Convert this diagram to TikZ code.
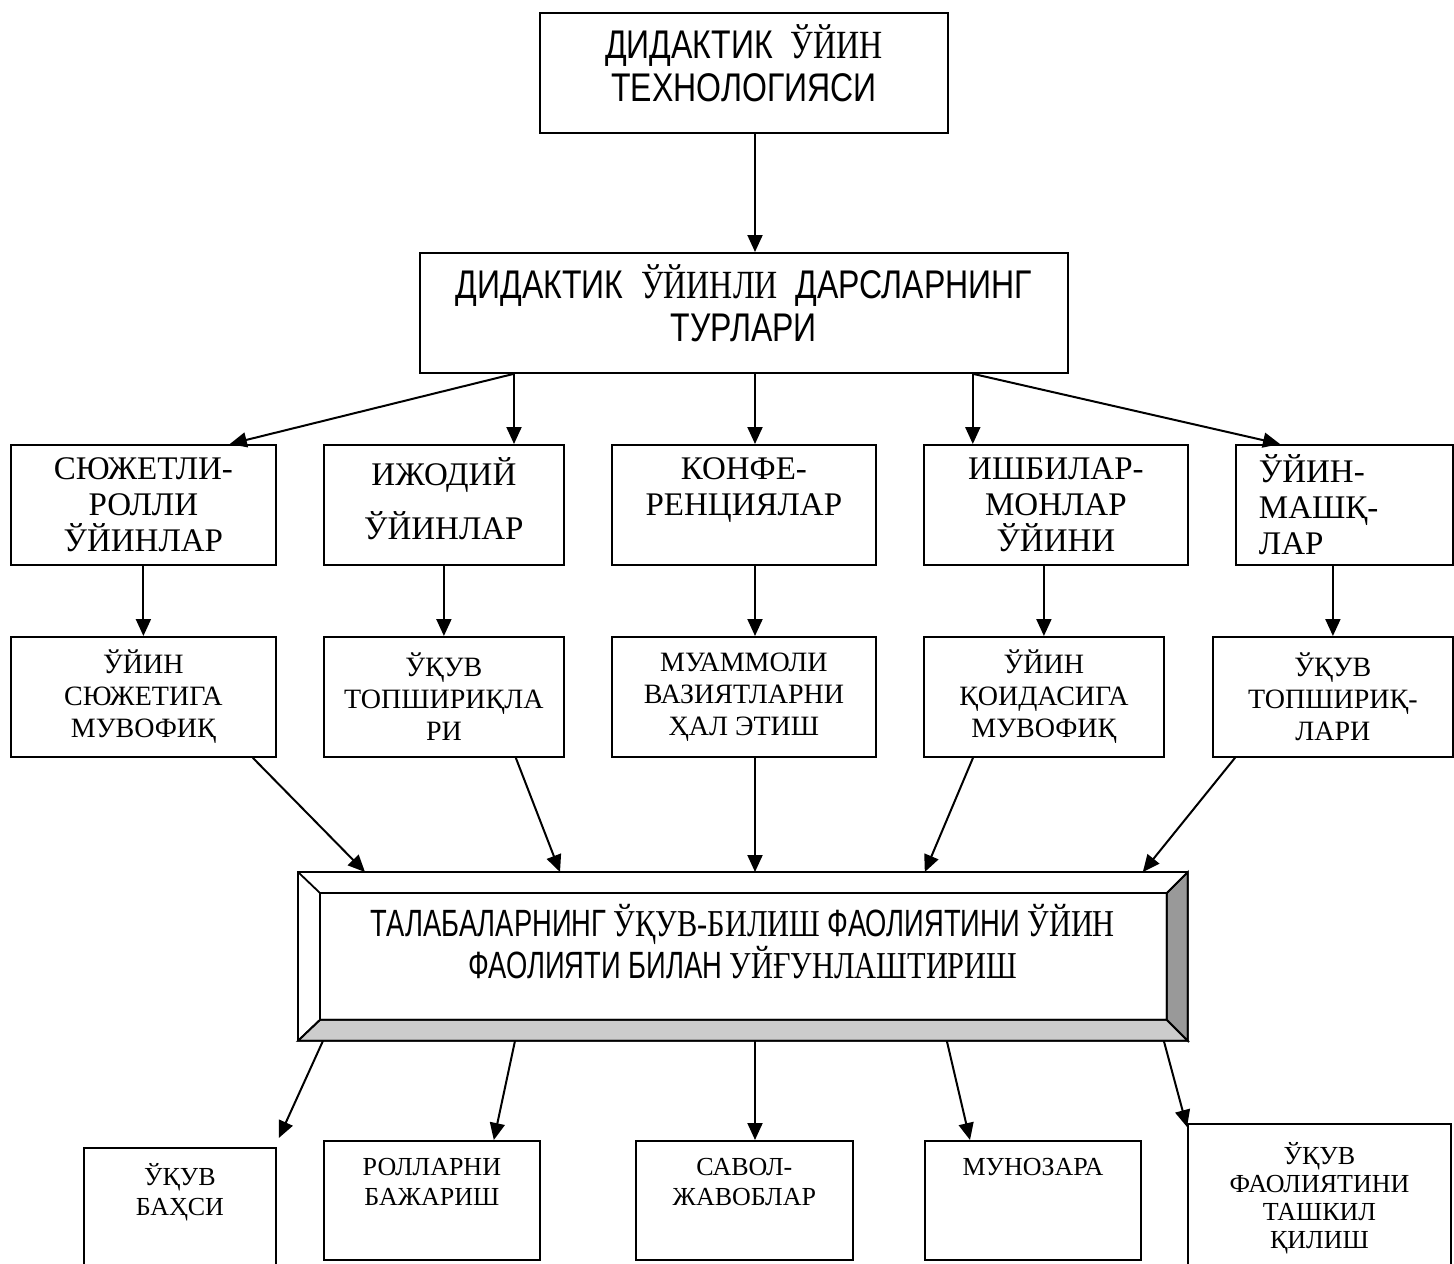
\documentclass[tikz,border=0pt]{standalone}
\usepackage{fontspec}
\setmainfont{Liberation Serif}
\newfontfamily\narrowsans[FakeStretch=0.8]{Liberation Sans}
\newfontfamily\narrowersans[FakeStretch=0.72]{Liberation Sans}
\newfontfamily\narrowserif[FakeStretch=0.8]{Liberation Serif}
\usetikzlibrary{calc, arrows.meta}

\begin{document}
\begin{tikzpicture}[x=0.5pt, y=-0.5pt,
    >={Triangle[length=8.5pt,width=7.5pt]},
    box/.style={draw, line width=0.9pt, anchor=north west, align=center, inner sep=2pt},
    head/.style={box, minimum height=60pt, font=\narrowsans\fontsize{20}{21.5}\selectfont},
    kind/.style={box, minimum height=60pt, font=\fontsize{16.5}{18}\selectfont},
    aim/.style={box, minimum height=60pt, font=\fontsize{14}{16}\selectfont},
    form/.style={box, minimum height=59.5pt},
    formtext/.style={anchor=north, inner sep=0pt, align=center, font=\fontsize{13}{15}\selectfont},
    link/.style={->, line width=1pt}]

  \useasboundingbox (0,0) rectangle (1454,1263);
  \coordinate (axis) at (755,0);

  % top
  \node[head, minimum width=204pt] (tech) at (539,12) {ДИДАКТИК\ \ {\narrowserif ЎЙИН}\\ТЕХНОЛОГИЯСИ\\[-12pt]\mbox{}};
  \node[head, minimum width=324pt] (types) at (419,252) {ДИДАКТИК\ \ {\narrowserif ЎЙИНЛИ}\ \ ДАРСЛАРНИНГ\\ТУРЛАРИ\\[-12pt]\mbox{}};

  % kinds of games
  \node[kind, minimum width=132.5pt] (plot) at (10,444) {СЮЖЕТЛИ-\\РОЛЛИ\\ЎЙИНЛАР};
  \node[kind, minimum width=120pt] (creat) at (323,444) {ИЖОДИЙ\\[9pt]ЎЙИНЛАР\\[-12pt]\mbox{}};
  \node[kind, minimum width=132pt] (conf) at (611,444) {КОНФЕ-\\РЕНЦИЯЛАР\\ \mbox{}};
  \node[kind, minimum width=132pt] (busi) at (923,444) {ИШБИЛАР-\\МОНЛАР\\ЎЙИНИ};
  \node[kind, minimum width=108.5pt, text width=85.5pt, align=left] (drill) at (1235,444) {ЎЙИН-\\МАШҚ-\\ЛАР};

  \node[aim, minimum width=132.5pt] (plotrule) at (10,636) {ЎЙИН\\СЮЖЕТИГА\\МУВОФИҚ};
  \node[aim, minimum width=120pt] (tasks) at (323,636) {ЎҚУВ\\ТОПШИРИҚЛА\\РИ};
  \node[aim, minimum width=132pt] (probl) at (611,636) {МУАММОЛИ\\ВАЗИЯТЛАРНИ\\ҲАЛ ЭТИШ};
  \node[aim, minimum width=120pt] (rules) at (923,636) {ЎЙИН\\ҚОИДАСИГА\\МУВОФИҚ};
  \node[aim, minimum width=120pt] (tasks2) at (1212,636) {ЎҚУВ\\ТОПШИРИҚ-\\ЛАРИ};

  % framed box
  \node[minimum width=444.5pt, minimum height=84pt, inner sep=0pt, anchor=north west] (core) at (298,872) {};
  \coordinate (inw) at ([shift={(11pt,-10.5pt)}]core.north west);
  \coordinate (ine) at ([shift={(-10.5pt,-10.5pt)}]core.north east);
  \coordinate (ise) at ([shift={(-10.5pt,10.5pt)}]core.south east);
  \coordinate (isw) at ([shift={(11pt,10.5pt)}]core.south west);
  \filldraw[fill=black!20, line width=0.9pt] (core.south west) -- (core.south east) -- (ise) -- (isw) -- cycle;
  \filldraw[fill=black!40, line width=0.9pt] (core.north east) -- (core.south east) -- (ise) -- (ine) -- cycle;
  \draw[line width=0.9pt] (core.north west) rectangle (core.south east) (inw) rectangle (ise)
    (core.north west) -- (inw) (core.north east) -- (ine) (core.south west) -- (isw);
  \node[font=\narrowersans\fontsize{19}{18.5}\selectfont, align=center] (coretext) at ([yshift=7.5pt]core.center)
    {ТАЛАБАЛАРНИНГ {\narrowserif ЎҚУВ-БИЛИШ} ФАОЛИЯТИНИ {\narrowserif ЎЙИН}\\ФАОЛИЯТИ БИЛАН {\narrowserif УЙҒУНЛАШТИРИШ}};

  % forms
  \node[form, minimum width=96pt, minimum height=64pt] (debate) at (83,1147) {};
  \node[form, minimum width=108pt] (roles) at (323,1140) {};
  \node[form, minimum width=108.5pt] (qa) at (635,1140) {};
  \node[form, minimum width=108pt] (disc) at (924,1140) {};
  \node[form, minimum width=131.5pt, minimum height=76pt] (org) at (1187,1123) {};
  \node[formtext] (debatetext) at ([yshift=-8pt]debate.north) {ЎҚУВ\\БАҲСИ};
  \node[formtext] (rolestext) at ([yshift=-9pt]roles.north) {РОЛЛАРНИ\\БАЖАРИШ};
  \node[formtext] (qatext) at ([yshift=-9pt]qa.north) {САВОЛ-\\ЖАВОБЛАР};
  \node[formtext] (disctext) at ([yshift=-9pt]disc.north) {МУНОЗАРА};
  \node[formtext, font=\fontsize{13}{14}\selectfont] (orgtext) at ([yshift=-9.5pt]org.north) {ЎҚУВ\\ФАОЛИЯТИНИ\\ТАШКИЛ\\ҚИЛИШ};

  % arrows
  \draw[link] (tech.south -| axis) -- (types.north -| axis);
  \coordinate (tl) at ([xshift=47.5pt]types.south west);
  \coordinate (tr) at ([xshift=-48pt]types.south east);
  \draw[link] (tl) -- ([xshift=-23.5pt]plot.north east);
  \draw[link] (tl) -- (tl |- creat.north);
  \draw[link] (types.south -| axis) -- (conf.north -| axis);
  \draw[link] (tr) -- (tr |- busi.north);
  \draw[link] (tr) -- ([xshift=22.5pt]drill.north west);

  \foreach \up/\down in {plot/plotrule, creat/tasks, busi/rules, drill/tasks2}
    \draw[link] (\up.south -| \down.north) -- (\down.north);
  \draw[link] (conf.south -| axis) -- (probl.north -| axis);

  \draw[link] ([xshift=-12pt]plotrule.south east) -- ([xshift=33.5pt]core.north west);
  \draw[link] ([xshift=-24.5pt]tasks.south east) -- ([xshift=131pt]core.north west);
  \draw[link] (probl.south -| axis) -- (core.north -| axis);
  \draw[link] ([xshift=25pt]rules.south west) -- ([xshift=-131.5pt]core.north east);
  \draw[link] ([xshift=11.5pt]tasks2.south west) -- ([xshift=-22.5pt]core.north east);

  \draw[link] ([xshift=12.5pt]core.south west) -- ([shift={(1pt,4.5pt)}]debate.north east);
  \draw[link] ([xshift=108.5pt]core.south west) -- ([xshift=-23.5pt]roles.north east);
  \draw[link] (core.south -| axis) -- (qa.north -| axis);
  \draw[link] ([xshift=-120.5pt]core.south east) -- ([xshift=23pt]disc.north west);
  \draw[link] ([xshift=-12pt]core.south east) -- ([yshift=-2pt]org.north west);
\end{tikzpicture}
\end{document}
